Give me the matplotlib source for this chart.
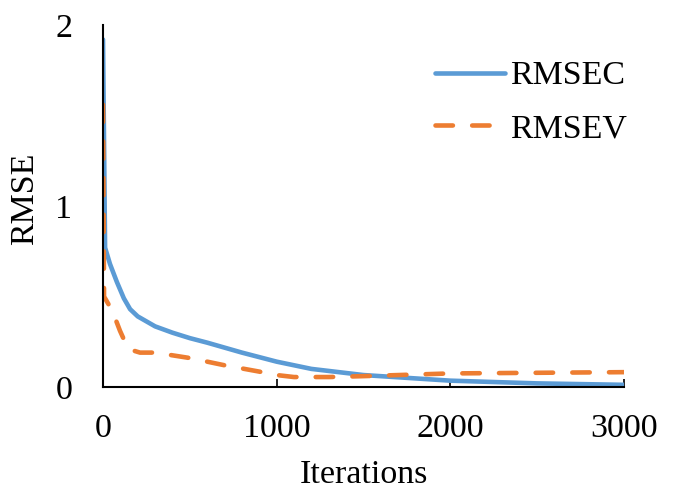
import matplotlib
matplotlib.use("Agg")
import matplotlib.pyplot as plt

# Data
iter_c = [0, 12, 40, 80, 120, 156, 200, 300, 400, 500, 600, 800, 1000, 1200, 1500, 2000, 2500, 3000]
rmsec = [1.92, 0.77, 0.68, 0.58, 0.49, 0.43, 0.39, 0.335, 0.30, 0.27, 0.245, 0.19, 0.14, 0.10, 0.066, 0.035, 0.02, 0.012]

iter_v = [0, 6, 30, 58, 98, 145, 213, 300, 500, 700, 900, 1000, 1100, 1300, 1500, 2000, 3000]
rmsev = [1.56, 0.50, 0.46, 0.41, 0.31, 0.21, 0.19, 0.19, 0.16, 0.12, 0.085, 0.066, 0.055, 0.055, 0.06, 0.075, 0.082]

x_ticks = [0, 1000, 2000, 3000]
y_ticks = [0, 1, 2]

plt.rcParams['font.family'] = ['Liberation Serif', 'DejaVu Serif']

fig = plt.figure(figsize=(6.73, 4.92), dpi=100)
ax = fig.add_axes([103/673, 1-387/492, (624-103)/673, (387-25)/492])

ax.plot(iter_c, rmsec, color='#5B9BD5', lw=3.3, label='RMSEC', solid_capstyle='round',
        solid_joinstyle='round')
ax.plot(iter_v, rmsev, color='#ED7D31', lw=3.3, label='RMSEV', linestyle=(0, (3.8, 4.2)),
        dash_capstyle='round', dash_joinstyle='round')

ax.set_xlim(0, 3000)
ax.set_ylim(0, 2)
ax.set_xticks(x_ticks)
ax.set_yticks(y_ticks)
ax.tick_params(axis='x', direction='in', length=6, width=1.2, labelsize=24.5, pad=19)
ax.tick_params(axis='y', length=0, labelsize=24.5, pad=22)
for s in ['top', 'right']:
    ax.spines[s].set_visible(False)
for s in ['left', 'bottom']:
    ax.spines[s].set_linewidth(1.5)

ax.set_xlabel('Iterations', fontsize=24.5)
ax.set_ylabel('RMSE', fontsize=24.5)
ax.xaxis.set_label_coords(0.5, -0.20)
ax.yaxis.set_label_coords(-0.12, 0.52)

leg = ax.legend(loc='center left', bbox_to_anchor=(435/673, 1-102.5/492),
                bbox_transform=fig.transFigure, frameon=False, fontsize=24.5,
                handlelength=2.05, handletextpad=0.15, borderpad=0, borderaxespad=0,
                labelspacing=0.65)

fig.savefig('out.png', dpi=100)
